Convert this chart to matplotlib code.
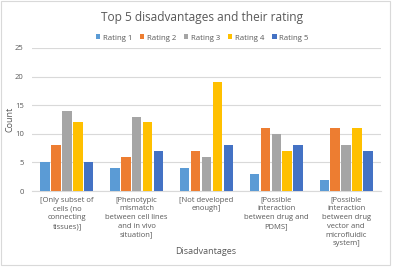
import matplotlib
matplotlib.use("Agg")
import matplotlib.pyplot as plt
import numpy as np
from matplotlib.patches import Rectangle

categories = [
    "[Only subset of\ncells (no\nconnecting\ntissues)]",
    "[Phenotypic\nmismatch\nbetween cell lines\nand in vivo\nsituation]",
    "[Not developed\nenough]",
    "[Possible\ninteraction\nbetween drug and\nPDMS]",
    "[Possible\ninteraction\nbetween drug\nvector and\nmicrofluidic\nsystem]",
]
series_names = ["Rating 1", "Rating 2", "Rating 3", "Rating 4", "Rating 5"]
rating1 = [5, 4, 4, 3, 2]
rating2 = [8, 6, 7, 11, 11]
rating3 = [14, 13, 6, 10, 8]
rating4 = [12, 12, 19, 7, 11]
rating5 = [5, 7, 8, 8, 7]
yticks = [0, 5, 10, 15, 20, 25]

series = [rating1, rating2, rating3, rating4, rating5]
colors = ["#5B9BD5", "#ED7D31", "#A5A5A5", "#FFC000", "#4472C4"]

plt.rcParams['font.family'] = ['Open Sans', 'DejaVu Sans']
fig = plt.figure(figsize=(3.96, 2.68), dpi=100)
ax = fig.add_axes([0.081, 0.287, 0.881, 0.534])

x = np.arange(len(categories))
pitch = 0.156
bw = 0.135
for i, (vals, c, name) in enumerate(zip(series, colors, series_names)):
    ax.bar(x + (i - 2) * pitch, vals, width=bw, color=c, label=name, zorder=3)

ax.set_xlim(-0.5, len(categories) - 0.5)
ax.set_ylim(0, 25)
ax.set_yticks(yticks)
ax.grid(axis='y', color='#d9d9d9', linewidth=0.8, zorder=0)
for s in ['top', 'right', 'left']:
    ax.spines[s].set_visible(False)
ax.spines['bottom'].set_color('#d9d9d9')
ax.spines['bottom'].set_linewidth(0.8)
ax.tick_params(axis='both', length=0, labelsize=5.5, colors='#595959', pad=6)
ax.set_xticks(x)
ax.set_xticklabels(categories, linespacing=1.35)
ax.tick_params(axis='x', pad=4)
fig.text(0.025, 0.555, "Count", fontsize=6.5, color='#595959', ha='center', va='center', rotation=90)
fig.text(0.52, 0.06, "Disadvantages", fontsize=6.5, color='#595959', ha='center', va='center')
fig.text(0.51, 0.935, "Top 5 disadvantages and their rating", fontsize=8.6, color='#595959', ha='center', va='center')
leg = fig.legend(loc='center', bbox_to_anchor=(0.51, 0.858), ncol=5, fontsize=5.6, frameon=False,
                 handlelength=0.6, handleheight=0.6, handletextpad=0.3, columnspacing=1.0)
for t in leg.get_texts():
    t.set_color('#595959')

fig.patches.append(Rectangle((0.002, 0.012), 0.983, 0.985, transform=fig.transFigure,
                             fill=False, edgecolor='#d9d9d9', linewidth=0.8))
fig.savefig("out.png", dpi=100)
